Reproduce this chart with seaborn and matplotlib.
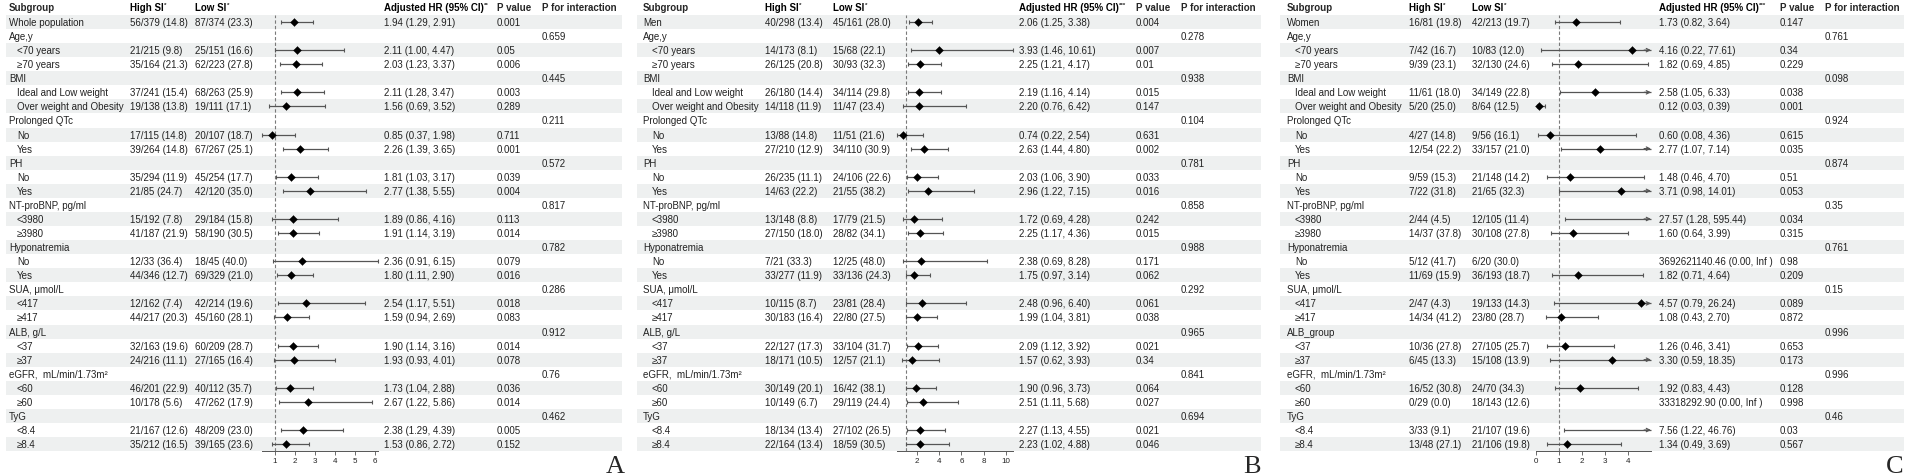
import numpy as np
import pandas as pd
import matplotlib
matplotlib.use("Agg")
from matplotlib import pyplot as plt
from matplotlib.patches import Rectangle
import seaborn as sns

nan = np.nan
inf = np.inf

# shared row labels (first label and ALB label differ per panel)
subgroups = ["Whole population", "Age,y", "<70 years", "≥70 years", "BMI",
             "Ideal and Low weight", "Over weight and Obesity", "Prolonged QTc", "No", "Yes",
             "PH", "No", "Yes", "NT-proBNP, pg/ml", "<3980", "≥3980",
             "Hyponatremia", "No", "Yes", "SUA, μmol/L", "<417", "≥417",
             "ALB, g/L", "<37", "≥37", "eGFR,  mL/min/1.73m²", "<60", "≥60",
             "TyG", "<8.4", "≥8.4"]
group_rows = [1, 4, 7, 10, 13, 16, 19, 22, 25, 28]

# ---- Panel A: whole population
a_high = ["56/379 (14.8)", "", "21/215 (9.8)", "35/164 (21.3)", "", "37/241 (15.4)", "19/138 (13.8)", "",
          "17/115 (14.8)", "39/264 (14.8)", "", "35/294 (11.9)", "21/85 (24.7)", "", "15/192 (7.8)",
          "41/187 (21.9)", "", "12/33 (36.4)", "44/346 (12.7)", "", "12/162 (7.4)", "44/217 (20.3)", "",
          "32/163 (19.6)", "24/216 (11.1)", "", "46/201 (22.9)", "10/178 (5.6)", "", "21/167 (12.6)",
          "35/212 (16.5)"]
a_low = ["87/374 (23.3)", "", "25/151 (16.6)", "62/223 (27.8)", "", "68/263 (25.9)", "19/111 (17.1)", "",
         "20/107 (18.7)", "67/267 (25.1)", "", "45/254 (17.7)", "42/120 (35.0)", "", "29/184 (15.8)",
         "58/190 (30.5)", "", "18/45 (40.0)", "69/329 (21.0)", "", "42/214 (19.6)", "45/160 (28.1)", "",
         "60/209 (28.7)", "27/165 (16.4)", "", "40/112 (35.7)", "47/262 (17.9)", "", "48/209 (23.0)",
         "39/165 (23.6)"]
a_hr = [1.94, nan, 2.11, 2.03, nan, 2.11, 1.56, nan, 0.85, 2.26, nan, 1.81, 2.77, nan, 1.89, 1.91, nan,
        2.36, 1.80, nan, 2.54, 1.59, nan, 1.90, 1.93, nan, 1.73, 2.67, nan, 2.38, 1.53]
a_lo = [1.29, nan, 1.00, 1.23, nan, 1.28, 0.69, nan, 0.37, 1.39, nan, 1.03, 1.38, nan, 0.86, 1.14, nan,
        0.91, 1.11, nan, 1.17, 0.94, nan, 1.14, 0.93, nan, 1.04, 1.22, nan, 1.29, 0.86]
a_hi = [2.91, nan, 4.47, 3.37, nan, 3.47, 3.52, nan, 1.98, 3.65, nan, 3.17, 5.55, nan, 4.16, 3.19, nan,
        6.15, 2.90, nan, 5.51, 2.69, nan, 3.16, 4.01, nan, 2.88, 5.86, nan, 4.39, 2.72]
a_p = ["0.001", "", "0.05", "0.006", "", "0.003", "0.289", "", "0.711", "0.001", "", "0.039", "0.004", "",
       "0.113", "0.014", "", "0.079", "0.016", "", "0.018", "0.083", "", "0.014", "0.078", "", "0.036",
       "0.014", "", "0.005", "0.152"]
a_pint = ["0.659", "0.445", "0.211", "0.572", "0.817", "0.782", "0.286", "0.912", "0.76", "0.462"]

# ---- Panel B: men
b_high = ["40/298 (13.4)", "", "14/173 (8.1)", "26/125 (20.8)", "", "26/180 (14.4)", "14/118 (11.9)", "",
          "13/88 (14.8)", "27/210 (12.9)", "", "26/235 (11.1)", "14/63 (22.2)", "", "13/148 (8.8)",
          "27/150 (18.0)", "", "7/21 (33.3)", "33/277 (11.9)", "", "10/115 (8.7)", "30/183 (16.4)", "",
          "22/127 (17.3)", "18/171 (10.5)", "", "30/149 (20.1)", "10/149 (6.7)", "", "18/134 (13.4)",
          "22/164 (13.4)"]
b_low = ["45/161 (28.0)", "", "15/68 (22.1)", "30/93 (32.3)", "", "34/114 (29.8)", "11/47 (23.4)", "",
         "11/51 (21.6)", "34/110 (30.9)", "", "24/106 (22.6)", "21/55 (38.2)", "", "17/79 (21.5)",
         "28/82 (34.1)", "", "12/25 (48.0)", "33/136 (24.3)", "", "23/81 (28.4)", "22/80 (27.5)", "",
         "33/104 (31.7)", "12/57 (21.1)", "", "16/42 (38.1)", "29/119 (24.4)", "", "27/102 (26.5)",
         "18/59 (30.5)"]
b_hr = [2.06, nan, 3.93, 2.25, nan, 2.19, 2.20, nan, 0.74, 2.63, nan, 2.03, 2.96, nan, 1.72, 2.25, nan,
        2.38, 1.75, nan, 2.48, 1.99, nan, 2.09, 1.57, nan, 1.90, 2.51, nan, 2.27, 2.23]
b_lo = [1.25, nan, 1.46, 1.21, nan, 1.16, 0.76, nan, 0.22, 1.44, nan, 1.06, 1.22, nan, 0.69, 1.17, nan,
        0.69, 0.97, nan, 0.96, 1.04, nan, 1.12, 0.62, nan, 0.96, 1.11, nan, 1.13, 1.02]
b_hi = [3.38, nan, 10.61, 4.17, nan, 4.14, 6.42, nan, 2.54, 4.80, nan, 3.90, 7.15, nan, 4.28, 4.36, nan,
        8.28, 3.14, nan, 6.40, 3.81, nan, 3.92, 3.93, nan, 3.73, 5.68, nan, 4.55, 4.88]
b_p = ["0.004", "", "0.007", "0.01", "", "0.015", "0.147", "", "0.631", "0.002", "", "0.033", "0.016", "",
       "0.242", "0.015", "", "0.171", "0.062", "", "0.061", "0.038", "", "0.021", "0.34", "", "0.064",
       "0.027", "", "0.021", "0.046"]
b_pint = ["0.278", "0.938", "0.104", "0.781", "0.858", "0.988", "0.292", "0.965", "0.841", "0.694"]

# ---- Panel C: women
c_high = ["16/81 (19.8)", "", "7/42 (16.7)", "9/39 (23.1)", "", "11/61 (18.0)", "5/20 (25.0)", "",
          "4/27 (14.8)", "12/54 (22.2)", "", "9/59 (15.3)", "7/22 (31.8)", "", "2/44 (4.5)",
          "14/37 (37.8)", "", "5/12 (41.7)", "11/69 (15.9)", "", "2/47 (4.3)", "14/34 (41.2)", "",
          "10/36 (27.8)", "6/45 (13.3)", "", "16/52 (30.8)", "0/29 (0.0)", "", "3/33 (9.1)",
          "13/48 (27.1)"]
c_low = ["42/213 (19.7)", "", "10/83 (12.0)", "32/130 (24.6)", "", "34/149 (22.8)", "8/64 (12.5)", "",
         "9/56 (16.1)", "33/157 (21.0)", "", "21/148 (14.2)", "21/65 (32.3)", "", "12/105 (11.4)",
         "30/108 (27.8)", "", "6/20 (30.0)", "36/193 (18.7)", "", "19/133 (14.3)", "23/80 (28.7)", "",
         "27/105 (25.7)", "15/108 (13.9)", "", "24/70 (34.3)", "18/143 (12.6)", "", "21/107 (19.6)",
         "21/106 (19.8)"]
c_hr = [1.73, nan, 4.16, 1.82, nan, 2.58, 0.12, nan, 0.60, 2.77, nan, 1.48, 3.71, nan, 27.57, 1.60, nan,
        3692621140.46, 1.82, nan, 4.57, 1.08, nan, 1.26, 3.30, nan, 1.92, 33318292.90, nan, 7.56, 1.34]
c_lo = [0.82, nan, 0.22, 0.69, nan, 1.05, 0.03, nan, 0.08, 1.07, nan, 0.46, 0.98, nan, 1.28, 0.64, nan,
        0.00, 0.71, nan, 0.79, 0.43, nan, 0.46, 0.59, nan, 0.83, 0.00, nan, 1.22, 0.49]
c_hi = [3.64, nan, 77.61, 4.85, nan, 6.33, 0.39, nan, 4.36, 7.14, nan, 4.70, 14.01, nan, 595.44, 3.99, nan,
        inf, 4.64, nan, 26.24, 2.70, nan, 3.41, 18.35, nan, 4.43, inf, nan, 46.76, 3.69]
c_p = ["0.147", "", "0.34", "0.229", "", "0.038", "0.001", "", "0.615", "0.035", "", "0.51", "0.053", "",
       "0.034", "0.315", "", "0.98", "0.209", "", "0.089", "0.872", "", "0.653", "0.173", "", "0.128",
       "0.998", "", "0.03", "0.567"]
c_pint = ["0.761", "0.098", "0.924", "0.874", "0.35", "0.761", "0.15", "0.996", "0.996", "0.46"]

sns.set_style("white")
plt.rcParams["font.family"] = ["Liberation Sans", "DejaVu Sans"]

W, H = 1908, 477
ROW0, ROWH, HEAD_Y, AXIS_Y = 23, 14.07, 8, 452
BAND = "#eef0f0"
TXT = "#222222"

fig = plt.figure(figsize=(W / 100, H / 100), dpi=100)
bg = fig.add_axes([0, 0, 1, 1])
bg.set_xlim(0, W)
bg.set_ylim(H, 0)
bg.axis("off")


def make_df(first, high, low, hr, lo, hi, p, pint, alb=None):
    labels = list(subgroups)
    labels[0] = first
    if alb:
        labels[22] = alb
    pi = [""] * len(labels)
    for r, v in zip(group_rows, pint):
        pi[r] = v
    df = pd.DataFrame({"row": np.arange(len(labels)), "label": labels, "high": high, "low": low,
                       "hr": hr, "lo": lo, "hi": hi, "p": p, "pint": pi})
    return df


def hr_text(r):
    if np.isnan(r.hr):
        return ""
    if np.isinf(r.hi):
        return f"{r.hr:.2f} ({r.lo:.2f}, Inf )"
    return f"{r.hr:.2f} ({r.lo:.2f}, {r.hi:.2f})"


def star_text(x, y, s, stars):
    t = bg.text(x, y, s, ha="left", va="center", fontsize=7, fontweight="bold", color="black")
    bg.annotate(stars, xy=(1, 1), xycoords=t, xytext=(0.4, 0.3), textcoords="offset points",
                ha="left", va="top", fontsize=4.5, fontweight="bold")


def draw_panel(df, pos, xlim, ticks, letter, stars):
    (band_l, sub_x, ind_x, high_x, low_x, f0, f1, hr_x, p_x, pi_x, band_r, let_x) = pos
    # header
    bg.text(sub_x, HEAD_Y, "Subgroup", ha="left", va="center", fontsize=7, fontweight="bold")
    star_text(high_x, HEAD_Y, "High SI", "*")
    star_text(low_x, HEAD_Y, "Low SI", "*")
    star_text(hr_x, HEAD_Y, "Adjusted HR (95% CI)", stars)
    bg.text(p_x, HEAD_Y, "P value", ha="left", va="center", fontsize=7, fontweight="bold")
    bg.text(pi_x, HEAD_Y, "P for interaction", ha="left", va="center", fontsize=7, fontweight="bold")

    for r in df.itertuples():
        y = ROW0 + ROWH * r.row
        if r.row % 2 == 0:
            bg.add_patch(Rectangle((band_l, y - ROWH / 2), band_r - band_l, ROWH,
                                   facecolor=BAND, edgecolor="none", zorder=0))
        indent = r.row not in group_rows and r.row != 0
        bg.text(ind_x if indent else sub_x, y, r.label, ha="left", va="center", fontsize=7, color=TXT)
        bg.text(high_x, y, r.high, ha="left", va="center", fontsize=7, color=TXT)
        bg.text(low_x, y, r.low, ha="left", va="center", fontsize=7, color=TXT)
        bg.text(hr_x, y, hr_text(r), ha="left", va="center", fontsize=7, color=TXT)
        bg.text(p_x, y, r.p, ha="left", va="center", fontsize=7, color=TXT)
        bg.text(pi_x, y, r.pint, ha="left", va="center", fontsize=7, color=TXT)

    bg.text(let_x, 473, letter, ha="center", va="baseline", fontsize=19,
            family=["Liberation Serif", "DejaVu Serif"])

    # forest axes
    top = ROW0 - ROWH / 2
    ax = fig.add_axes([f0 / W, (H - AXIS_Y) / H, (f1 - f0) / W, (AXIS_Y - top) / H])
    ax.patch.set_visible(False)
    ax.set_xlim(*xlim)
    ax.set_ylim((AXIS_Y - ROW0) / ROWH, (top - ROW0) / ROWH)
    for s in ["top", "left", "right"]:
        ax.spines[s].set_visible(False)
    ax.spines["bottom"].set_color("#555555")
    ax.spines["bottom"].set_linewidth(0.7)
    ax.set_yticks([])
    ax.set_xticks(ticks)
    ax.tick_params(axis="x", labelsize=5.8, length=3, width=0.6, color="#555555", pad=1.2,
                   labelcolor="#222222", direction="out", bottom=True)
    ax.axvline(1, color="#7a7a7a", ls=(0, (3, 2)), lw=0.8, zorder=1)

    xmax = xlim[1]
    d = df[df["hr"].notna() & np.isfinite(df["hi"])]
    ax.hlines(d["row"], d["lo"], d["hi"].clip(upper=xmax), color="#555555", lw=0.9, zorder=2,
              clip_on=False)
    ax.scatter(d["lo"], d["row"], marker="|", s=9, color="#555555", lw=0.8, zorder=2, clip_on=False)
    capped = d[d["hi"] <= xmax]
    ax.scatter(capped["hi"], capped["row"], marker="|", s=9, color="#555555", lw=0.8, zorder=2,
               clip_on=False)
    for r in d[d["hi"] > xmax].itertuples():
        ax.annotate("", xy=(xmax, r.row), xytext=(xmax - 0.3, r.row),
                    arrowprops=dict(arrowstyle="->", color="#555555", lw=0.9, mutation_scale=6,
                                    shrinkA=0, shrinkB=0), annotation_clip=False)
    inside = d[d["hr"] <= xmax]
    sns.scatterplot(data=inside, x="hr", y="row", marker="D", s=16, color="black",
                    edgecolor="black", linewidth=0.3, zorder=3, ax=ax, legend=False, clip_on=False)
    ax.set_xlabel("")
    ax.set_ylabel("")
    return ax


df_a = make_df("Whole population", a_high, a_low, a_hr, a_lo, a_hi, a_p, a_pint)
df_b = make_df("Men", b_high, b_low, b_hr, b_lo, b_hi, b_p, b_pint)
df_c = make_df("Women", c_high, c_low, c_hr, c_lo, c_hi, c_p, c_pint, alb="ALB_group")

draw_panel(df_a, (6, 9, 17, 130, 195, 262.4, 378, 384, 497, 542, 622, 615),
           (0.37, 6.15), [1, 2, 3, 4, 5, 6], "A", "**")
draw_panel(df_b, (637, 643, 652, 765, 833, 897.3, 1012.7, 1019, 1136, 1181, 1261, 1252),
           (0.22, 10.61), [2, 4, 6, 8, 10], "B", "***")
draw_panel(df_c, (1280, 1287, 1295, 1409, 1472, 1536, 1651, 1659, 1780, 1825, 1904, 1895),
           (0, 5), [0, 1, 2, 3, 4], "C", "***")

fig.savefig("out.png", dpi=100)
